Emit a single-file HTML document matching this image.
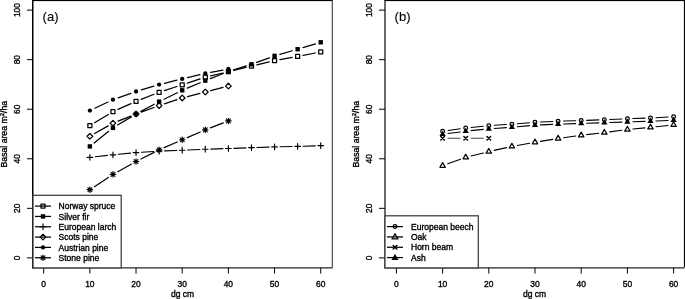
<!DOCTYPE html>
<html><head><meta charset="utf-8"><title>Basal area</title>
<style>html,body{margin:0;padding:0;background:#fff}svg{display:block}</style></head>
<body>
<svg width="685" height="299" viewBox="0 0 685 299">
<rect width="685" height="299" fill="#fff"/>
<rect x="32.00" y="0" width="300.60" height="1.1" fill="#000"/>
<path d="M332.30 0V267.90" stroke="#333" stroke-width="1.05" fill="none"/>
<path d="M33.00 267.90H332.50" stroke="#262626" stroke-width="1.3" fill="none"/>
<path d="M32.75 0V268.50" stroke="#000" stroke-width="1.5" fill="none"/>
<path d="M43.70 267.90V273.60M89.87 267.90V273.60M136.04 267.90V273.60M182.21 267.90V273.60M228.38 267.90V273.60M274.55 267.90V273.60M320.72 267.90V273.60M33.00 257.90H27.00M33.00 208.34H27.00M33.00 158.78H27.00M33.00 109.22H27.00M33.00 59.66H27.00M33.00 10.10H27.00" stroke="#000" stroke-width="1.0" fill="none"/>
<text x="43.70" y="287.1" font-size="8.45" text-anchor="middle" font-family="Liberation Sans, Arial, Helvetica, sans-serif" fill="#000" stroke="#000" stroke-width="0.35">0</text>
<text x="89.87" y="287.1" font-size="8.45" text-anchor="middle" font-family="Liberation Sans, Arial, Helvetica, sans-serif" fill="#000" stroke="#000" stroke-width="0.35">10</text>
<text x="136.04" y="287.1" font-size="8.45" text-anchor="middle" font-family="Liberation Sans, Arial, Helvetica, sans-serif" fill="#000" stroke="#000" stroke-width="0.35">20</text>
<text x="182.21" y="287.1" font-size="8.45" text-anchor="middle" font-family="Liberation Sans, Arial, Helvetica, sans-serif" fill="#000" stroke="#000" stroke-width="0.35">30</text>
<text x="228.38" y="287.1" font-size="8.45" text-anchor="middle" font-family="Liberation Sans, Arial, Helvetica, sans-serif" fill="#000" stroke="#000" stroke-width="0.35">40</text>
<text x="274.55" y="287.1" font-size="8.45" text-anchor="middle" font-family="Liberation Sans, Arial, Helvetica, sans-serif" fill="#000" stroke="#000" stroke-width="0.35">50</text>
<text x="320.72" y="287.1" font-size="8.45" text-anchor="middle" font-family="Liberation Sans, Arial, Helvetica, sans-serif" fill="#000" stroke="#000" stroke-width="0.35">60</text>
<text transform="translate(20.20 257.90) rotate(-90)" font-size="8.4" text-anchor="middle" font-family="Liberation Sans, Arial, Helvetica, sans-serif" fill="#000" stroke="#000" stroke-width="0.35">0</text>
<text transform="translate(20.20 208.34) rotate(-90)" font-size="8.4" text-anchor="middle" font-family="Liberation Sans, Arial, Helvetica, sans-serif" fill="#000" stroke="#000" stroke-width="0.35">20</text>
<text transform="translate(20.20 158.78) rotate(-90)" font-size="8.4" text-anchor="middle" font-family="Liberation Sans, Arial, Helvetica, sans-serif" fill="#000" stroke="#000" stroke-width="0.35">40</text>
<text transform="translate(20.20 109.22) rotate(-90)" font-size="8.4" text-anchor="middle" font-family="Liberation Sans, Arial, Helvetica, sans-serif" fill="#000" stroke="#000" stroke-width="0.35">60</text>
<text transform="translate(20.20 59.66) rotate(-90)" font-size="8.4" text-anchor="middle" font-family="Liberation Sans, Arial, Helvetica, sans-serif" fill="#000" stroke="#000" stroke-width="0.35">80</text>
<text transform="translate(20.20 10.10) rotate(-90)" font-size="8.4" text-anchor="middle" font-family="Liberation Sans, Arial, Helvetica, sans-serif" fill="#000" stroke="#000" stroke-width="0.35">100</text>
<text x="182.50" y="297.3" font-size="8.5" text-anchor="middle" font-family="Liberation Sans, Arial, Helvetica, sans-serif" fill="#000" stroke="#000" stroke-width="0.35">dg cm</text>
<text transform="translate(6.50 134.2) rotate(-90)" font-size="8.7" text-anchor="middle" font-family="Liberation Sans, Arial, Helvetica, sans-serif" fill="#000" stroke="#000" stroke-width="0.35">Basal area m<tspan font-size="6" dy="-3">2</tspan><tspan dy="3">/ha</tspan></text>
<text x="42.60" y="21.4" font-size="13" font-family="Liberation Sans, Arial, Helvetica, sans-serif" fill="#000" stroke="#000" stroke-width="0.12">(a)</text>
<path d="M94.56 122.78L108.26 114.41M117.99 109.33L131.00 103.62M141.15 99.38L154.01 94.28M164.36 90.57L176.97 86.52M187.43 83.10L200.08 78.90M210.65 75.91L223.03 72.99M233.72 70.41L246.12 67.36M256.82 64.78L269.20 61.86M279.96 59.62L292.22 57.38M303.04 55.36L315.32 52.99" stroke="#000" stroke-width="1.25" stroke-linecap="round" fill="none"/>
<rect x="87.87" y="123.64" width="4.00" height="4.00" stroke="#000" stroke-width="1.25" stroke-linecap="round" stroke-linejoin="round" fill="none"/>
<rect x="110.95" y="109.55" width="4.00" height="4.00" stroke="#000" stroke-width="1.25" stroke-linecap="round" stroke-linejoin="round" fill="none"/>
<rect x="134.04" y="99.41" width="4.00" height="4.00" stroke="#000" stroke-width="1.25" stroke-linecap="round" stroke-linejoin="round" fill="none"/>
<rect x="157.12" y="90.26" width="4.00" height="4.00" stroke="#000" stroke-width="1.25" stroke-linecap="round" stroke-linejoin="round" fill="none"/>
<rect x="180.21" y="82.84" width="4.00" height="4.00" stroke="#000" stroke-width="1.25" stroke-linecap="round" stroke-linejoin="round" fill="none"/>
<rect x="203.30" y="75.17" width="4.00" height="4.00" stroke="#000" stroke-width="1.25" stroke-linecap="round" stroke-linejoin="round" fill="none"/>
<rect x="226.38" y="69.73" width="4.00" height="4.00" stroke="#000" stroke-width="1.25" stroke-linecap="round" stroke-linejoin="round" fill="none"/>
<rect x="249.46" y="64.04" width="4.00" height="4.00" stroke="#000" stroke-width="1.25" stroke-linecap="round" stroke-linejoin="round" fill="none"/>
<rect x="272.55" y="58.60" width="4.00" height="4.00" stroke="#000" stroke-width="1.25" stroke-linecap="round" stroke-linejoin="round" fill="none"/>
<rect x="295.63" y="54.40" width="4.00" height="4.00" stroke="#000" stroke-width="1.25" stroke-linecap="round" stroke-linejoin="round" fill="none"/>
<rect x="318.72" y="49.95" width="4.00" height="4.00" stroke="#000" stroke-width="1.25" stroke-linecap="round" stroke-linejoin="round" fill="none"/>
<path d="M94.16 142.97L108.67 131.31M117.67 125.04L131.32 116.85M140.89 111.42L154.28 104.25M164.06 99.22L177.28 92.71M187.28 88.16L200.22 82.75M210.41 78.61L223.27 73.51M233.63 69.85L246.21 65.94M256.63 62.43L269.38 57.79M279.83 54.38L292.35 50.75M302.90 47.65L315.45 43.88" stroke="#000" stroke-width="1.25" stroke-linecap="round" fill="none"/>
<rect x="87.67" y="144.22" width="4.40" height="4.40" fill="#000"/>
<rect x="110.75" y="125.67" width="4.40" height="4.40" fill="#000"/>
<rect x="133.84" y="111.82" width="4.40" height="4.40" fill="#000"/>
<rect x="156.93" y="99.45" width="4.40" height="4.40" fill="#000"/>
<rect x="180.01" y="88.08" width="4.40" height="4.40" fill="#000"/>
<rect x="203.10" y="78.43" width="4.40" height="4.40" fill="#000"/>
<rect x="226.18" y="69.28" width="4.40" height="4.40" fill="#000"/>
<rect x="249.26" y="62.11" width="4.40" height="4.40" fill="#000"/>
<rect x="272.35" y="53.70" width="4.40" height="4.40" fill="#000"/>
<rect x="295.44" y="47.03" width="4.40" height="4.40" fill="#000"/>
<rect x="318.52" y="40.10" width="4.40" height="4.40" fill="#000"/>
<path d="M95.34 156.71L107.49 155.41M118.43 154.30L130.57 153.13M141.53 152.24L153.64 151.47M164.62 150.91L176.71 150.45M187.70 150.01L199.80 149.49M210.79 149.08L222.88 148.69M233.88 148.31L245.97 147.86M256.96 147.47L269.05 147.09M280.05 146.79L292.14 146.53M303.13 146.24L315.22 145.85" stroke="#000" stroke-width="1.15" stroke-linecap="round" fill="none"/>
<path d="M87.04 157.30H92.70M89.87 154.47V160.12" stroke="#000" stroke-width="1.15" stroke-linecap="round" stroke-linejoin="round" fill="none"/>
<path d="M110.13 154.82H115.78M112.95 151.99V157.65" stroke="#000" stroke-width="1.15" stroke-linecap="round" stroke-linejoin="round" fill="none"/>
<path d="M133.21 152.60H138.87M136.04 149.77V155.43" stroke="#000" stroke-width="1.15" stroke-linecap="round" stroke-linejoin="round" fill="none"/>
<path d="M156.30 151.11H161.95M159.12 148.29V153.94" stroke="#000" stroke-width="1.15" stroke-linecap="round" stroke-linejoin="round" fill="none"/>
<path d="M179.38 150.25H185.04M182.21 147.42V153.08" stroke="#000" stroke-width="1.15" stroke-linecap="round" stroke-linejoin="round" fill="none"/>
<path d="M202.47 149.26H208.12M205.30 146.43V152.09" stroke="#000" stroke-width="1.15" stroke-linecap="round" stroke-linejoin="round" fill="none"/>
<path d="M225.55 148.52H231.21M228.38 145.69V151.35" stroke="#000" stroke-width="1.15" stroke-linecap="round" stroke-linejoin="round" fill="none"/>
<path d="M248.64 147.65H254.29M251.46 144.82V150.48" stroke="#000" stroke-width="1.15" stroke-linecap="round" stroke-linejoin="round" fill="none"/>
<path d="M271.72 146.91H277.38M274.55 144.08V149.74" stroke="#000" stroke-width="1.15" stroke-linecap="round" stroke-linejoin="round" fill="none"/>
<path d="M294.81 146.41H300.46M297.63 143.59V149.24" stroke="#000" stroke-width="1.15" stroke-linecap="round" stroke-linejoin="round" fill="none"/>
<path d="M317.89 145.67H323.55M320.72 142.84V148.50" stroke="#000" stroke-width="1.15" stroke-linecap="round" stroke-linejoin="round" fill="none"/>
<path d="M94.65 133.56L108.17 125.88M118.07 121.14L130.93 116.05M141.21 112.14L153.96 107.49M164.34 103.88L176.99 99.68M187.54 96.57L199.97 93.38M210.62 90.64L223.05 87.44" stroke="#000" stroke-width="1.25" stroke-linecap="round" fill="none"/>
<path d="M87.04 136.28L89.87 133.45L92.70 136.28L89.87 139.10Z" stroke="#000" stroke-width="1.25" stroke-linecap="round" stroke-linejoin="round" fill="none"/>
<path d="M110.13 123.17L112.95 120.34L115.78 123.17L112.95 126.00Z" stroke="#000" stroke-width="1.25" stroke-linecap="round" stroke-linejoin="round" fill="none"/>
<path d="M133.21 114.02L136.04 111.19L138.87 114.02L136.04 116.85Z" stroke="#000" stroke-width="1.25" stroke-linecap="round" stroke-linejoin="round" fill="none"/>
<path d="M156.30 105.61L159.12 102.78L161.95 105.61L159.12 108.44Z" stroke="#000" stroke-width="1.25" stroke-linecap="round" stroke-linejoin="round" fill="none"/>
<path d="M179.38 97.94L182.21 95.12L185.04 97.94L182.21 100.77Z" stroke="#000" stroke-width="1.25" stroke-linecap="round" stroke-linejoin="round" fill="none"/>
<path d="M202.47 92.01L205.30 89.18L208.12 92.01L205.30 94.84Z" stroke="#000" stroke-width="1.25" stroke-linecap="round" stroke-linejoin="round" fill="none"/>
<path d="M225.55 86.07L228.38 83.25L231.21 86.07L228.38 88.90Z" stroke="#000" stroke-width="1.25" stroke-linecap="round" stroke-linejoin="round" fill="none"/>
<path d="M94.85 108.21L107.98 102.02M118.14 97.84L130.85 93.35M141.31 89.93L153.86 86.17M164.47 83.27L176.87 80.22M187.56 77.64L199.94 74.72M210.70 72.42L222.98 70.05" stroke="#000" stroke-width="1.25" stroke-linecap="round" fill="none"/>
<circle cx="89.87" cy="110.56" r="2.16" fill="#000"/>
<circle cx="112.95" cy="99.68" r="2.16" fill="#000"/>
<circle cx="136.04" cy="91.51" r="2.16" fill="#000"/>
<circle cx="159.12" cy="84.59" r="2.16" fill="#000"/>
<circle cx="182.21" cy="78.90" r="2.16" fill="#000"/>
<circle cx="205.30" cy="73.46" r="2.16" fill="#000"/>
<circle cx="228.38" cy="69.01" r="2.16" fill="#000"/>
<path d="M94.45 186.65L108.37 177.40M117.76 171.68L131.24 164.18M140.95 159.03L154.21 152.35M164.16 147.67L177.17 141.95M187.27 137.57L200.24 132.01M210.43 127.87L223.25 122.92" stroke="#000" stroke-width="1.25" stroke-linecap="round" fill="none"/>
<path d="M87.13 189.69H92.61M89.87 186.95V192.44M87.93 187.75L91.81 191.63M87.93 191.63L91.81 187.75" stroke="#000" stroke-width="1.15" stroke-linecap="round" stroke-linejoin="round" fill="none"/>
<path d="M110.21 174.36H115.70M112.95 171.62V177.10M111.02 172.42L114.89 176.30M111.02 176.30L114.89 172.42" stroke="#000" stroke-width="1.15" stroke-linecap="round" stroke-linejoin="round" fill="none"/>
<path d="M133.30 161.50H138.78M136.04 158.76V164.24M134.10 159.56L137.98 163.44M134.10 163.44L137.98 159.56" stroke="#000" stroke-width="1.15" stroke-linecap="round" stroke-linejoin="round" fill="none"/>
<path d="M156.38 149.88H161.87M159.12 147.13V152.62M157.19 147.94L161.06 151.82M157.19 151.82L161.06 147.94" stroke="#000" stroke-width="1.15" stroke-linecap="round" stroke-linejoin="round" fill="none"/>
<path d="M179.47 139.74H184.95M182.21 136.99V142.48M180.27 137.80L184.15 141.68M180.27 141.68L184.15 137.80" stroke="#000" stroke-width="1.15" stroke-linecap="round" stroke-linejoin="round" fill="none"/>
<path d="M202.55 129.85H208.04M205.30 127.10V132.59M203.36 127.91L207.24 131.79M203.36 131.79L207.24 127.91" stroke="#000" stroke-width="1.15" stroke-linecap="round" stroke-linejoin="round" fill="none"/>
<path d="M225.64 120.94H231.12M228.38 118.20V123.69M226.44 119.00L230.32 122.88M226.44 122.88L230.32 119.00" stroke="#000" stroke-width="1.15" stroke-linecap="round" stroke-linejoin="round" fill="none"/>
<rect x="33.0" y="195.3" width="88.20" height="72.60" fill="#fff" stroke="#3c3c3c" stroke-width="1.25"/>
<path d="M35.00 206.10H51.00" stroke="#000" stroke-width="1.25"/>
<rect x="41.00" y="204.10" width="4.00" height="4.00" stroke="#000" stroke-width="1.25" stroke-linecap="round" stroke-linejoin="round" fill="none"/>
<text x="58.60" y="209.20" font-size="8.5" font-family="Liberation Sans, Arial, Helvetica, sans-serif" fill="#000" stroke="#000" stroke-width="0.35">Norway spruce</text>
<path d="M35.00 216.43H51.00" stroke="#000" stroke-width="1.25"/>
<rect x="40.80" y="214.23" width="4.40" height="4.40" fill="#000"/>
<text x="58.60" y="219.53" font-size="8.5" font-family="Liberation Sans, Arial, Helvetica, sans-serif" fill="#000" stroke="#000" stroke-width="0.35">Silver fir</text>
<path d="M35.00 226.76H51.00" stroke="#000" stroke-width="1.25"/>
<path d="M40.17 226.76H45.83M43.00 223.93V229.59" stroke="#000" stroke-width="1.15" stroke-linecap="round" stroke-linejoin="round" fill="none"/>
<text x="58.60" y="229.86" font-size="8.5" font-family="Liberation Sans, Arial, Helvetica, sans-serif" fill="#000" stroke="#000" stroke-width="0.35">European larch</text>
<path d="M35.00 237.09H51.00" stroke="#000" stroke-width="1.25"/>
<path d="M40.17 237.09L43.00 234.26L45.83 237.09L43.00 239.92Z" stroke="#000" stroke-width="1.25" stroke-linecap="round" stroke-linejoin="round" fill="none"/>
<text x="58.60" y="240.19" font-size="8.5" font-family="Liberation Sans, Arial, Helvetica, sans-serif" fill="#000" stroke="#000" stroke-width="0.35">Scots pine</text>
<path d="M35.00 247.42H51.00" stroke="#000" stroke-width="1.25"/>
<circle cx="43.00" cy="247.42" r="2.16" fill="#000"/>
<text x="58.60" y="250.52" font-size="8.5" font-family="Liberation Sans, Arial, Helvetica, sans-serif" fill="#000" stroke="#000" stroke-width="0.35">Austrian pine</text>
<path d="M35.00 257.75H51.00" stroke="#000" stroke-width="1.25"/>
<path d="M40.26 257.75H45.74M43.00 255.01V260.49M41.06 255.81L44.94 259.69M41.06 259.69L44.94 255.81" stroke="#000" stroke-width="1.15" stroke-linecap="round" stroke-linejoin="round" fill="none"/>
<text x="58.60" y="260.85" font-size="8.5" font-family="Liberation Sans, Arial, Helvetica, sans-serif" fill="#000" stroke="#000" stroke-width="0.35">Stone pine</text>
<rect x="384.70" y="0" width="299.90" height="1.1" fill="#000"/>
<rect x="683.9" y="0" width="1.1" height="267.3" fill="#000"/>
<path d="M385.00 267.90H684.50" stroke="#262626" stroke-width="1.3" fill="none"/>
<path d="M385.00 0V268.50" stroke="#111" stroke-width="1.25" fill="none"/>
<path d="M396.40 267.90V273.60M442.60 267.90V273.60M488.80 267.90V273.60M535.00 267.90V273.60M581.20 267.90V273.60M627.40 267.90V273.60M673.60 267.90V273.60M385.00 257.90H379.00M385.00 208.34H379.00M385.00 158.78H379.00M385.00 109.22H379.00M385.00 59.66H379.00M385.00 10.10H379.00" stroke="#000" stroke-width="1.0" fill="none"/>
<text x="396.40" y="287.1" font-size="8.45" text-anchor="middle" font-family="Liberation Sans, Arial, Helvetica, sans-serif" fill="#000" stroke="#000" stroke-width="0.35">0</text>
<text x="442.60" y="287.1" font-size="8.45" text-anchor="middle" font-family="Liberation Sans, Arial, Helvetica, sans-serif" fill="#000" stroke="#000" stroke-width="0.35">10</text>
<text x="488.80" y="287.1" font-size="8.45" text-anchor="middle" font-family="Liberation Sans, Arial, Helvetica, sans-serif" fill="#000" stroke="#000" stroke-width="0.35">20</text>
<text x="535.00" y="287.1" font-size="8.45" text-anchor="middle" font-family="Liberation Sans, Arial, Helvetica, sans-serif" fill="#000" stroke="#000" stroke-width="0.35">30</text>
<text x="581.20" y="287.1" font-size="8.45" text-anchor="middle" font-family="Liberation Sans, Arial, Helvetica, sans-serif" fill="#000" stroke="#000" stroke-width="0.35">40</text>
<text x="627.40" y="287.1" font-size="8.45" text-anchor="middle" font-family="Liberation Sans, Arial, Helvetica, sans-serif" fill="#000" stroke="#000" stroke-width="0.35">50</text>
<text x="673.60" y="287.1" font-size="8.45" text-anchor="middle" font-family="Liberation Sans, Arial, Helvetica, sans-serif" fill="#000" stroke="#000" stroke-width="0.35">60</text>
<text transform="translate(372.20 257.90) rotate(-90)" font-size="8.4" text-anchor="middle" font-family="Liberation Sans, Arial, Helvetica, sans-serif" fill="#000" stroke="#000" stroke-width="0.35">0</text>
<text transform="translate(372.20 208.34) rotate(-90)" font-size="8.4" text-anchor="middle" font-family="Liberation Sans, Arial, Helvetica, sans-serif" fill="#000" stroke="#000" stroke-width="0.35">20</text>
<text transform="translate(372.20 158.78) rotate(-90)" font-size="8.4" text-anchor="middle" font-family="Liberation Sans, Arial, Helvetica, sans-serif" fill="#000" stroke="#000" stroke-width="0.35">40</text>
<text transform="translate(372.20 109.22) rotate(-90)" font-size="8.4" text-anchor="middle" font-family="Liberation Sans, Arial, Helvetica, sans-serif" fill="#000" stroke="#000" stroke-width="0.35">60</text>
<text transform="translate(372.20 59.66) rotate(-90)" font-size="8.4" text-anchor="middle" font-family="Liberation Sans, Arial, Helvetica, sans-serif" fill="#000" stroke="#000" stroke-width="0.35">80</text>
<text transform="translate(372.20 10.10) rotate(-90)" font-size="8.4" text-anchor="middle" font-family="Liberation Sans, Arial, Helvetica, sans-serif" fill="#000" stroke="#000" stroke-width="0.35">100</text>
<text x="534.50" y="297.3" font-size="8.5" text-anchor="middle" font-family="Liberation Sans, Arial, Helvetica, sans-serif" fill="#000" stroke="#000" stroke-width="0.35">dg cm</text>
<text transform="translate(358.50 134.2) rotate(-90)" font-size="8.7" text-anchor="middle" font-family="Liberation Sans, Arial, Helvetica, sans-serif" fill="#000" stroke="#000" stroke-width="0.35">Basal area m<tspan font-size="6" dy="-3">2</tspan><tspan dy="3">/ha</tspan></text>
<text x="394.60" y="21.4" font-size="13" font-family="Liberation Sans, Arial, Helvetica, sans-serif" fill="#000" stroke="#000" stroke-width="0.12">(b)</text>
<path d="M448.04 130.54L460.26 128.78M471.17 127.43L483.33 126.20M494.29 125.29L506.41 124.51M517.38 123.72L529.52 122.74M540.49 122.04L552.61 121.46M563.60 121.04L575.70 120.72M586.70 120.37L598.80 119.91M609.79 119.47L621.91 118.95M632.90 118.54L645.00 118.15M655.99 117.68L668.11 117.03" stroke="#000" stroke-width="1.1" stroke-linecap="round" fill="none"/>
<circle cx="442.60" cy="131.33" r="1.86" stroke="#000" stroke-width="1.25" stroke-linecap="round" stroke-linejoin="round" fill="none"/>
<circle cx="465.70" cy="127.99" r="1.86" stroke="#000" stroke-width="1.25" stroke-linecap="round" stroke-linejoin="round" fill="none"/>
<circle cx="488.80" cy="125.64" r="1.86" stroke="#000" stroke-width="1.25" stroke-linecap="round" stroke-linejoin="round" fill="none"/>
<circle cx="511.90" cy="124.16" r="1.86" stroke="#000" stroke-width="1.25" stroke-linecap="round" stroke-linejoin="round" fill="none"/>
<circle cx="535.00" cy="122.30" r="1.86" stroke="#000" stroke-width="1.25" stroke-linecap="round" stroke-linejoin="round" fill="none"/>
<circle cx="558.10" cy="121.19" r="1.86" stroke="#000" stroke-width="1.25" stroke-linecap="round" stroke-linejoin="round" fill="none"/>
<circle cx="581.20" cy="120.57" r="1.86" stroke="#000" stroke-width="1.25" stroke-linecap="round" stroke-linejoin="round" fill="none"/>
<circle cx="604.30" cy="119.71" r="1.86" stroke="#000" stroke-width="1.25" stroke-linecap="round" stroke-linejoin="round" fill="none"/>
<circle cx="627.40" cy="118.72" r="1.86" stroke="#000" stroke-width="1.25" stroke-linecap="round" stroke-linejoin="round" fill="none"/>
<circle cx="650.50" cy="117.98" r="1.86" stroke="#000" stroke-width="1.25" stroke-linecap="round" stroke-linejoin="round" fill="none"/>
<circle cx="673.60" cy="116.74" r="1.86" stroke="#000" stroke-width="1.25" stroke-linecap="round" stroke-linejoin="round" fill="none"/>
<path d="M447.77 163.82L460.53 159.18M471.04 155.98L483.46 152.92M494.17 150.40L506.53 147.62M517.31 145.43L529.59 143.20M540.43 141.34L552.67 139.37M563.55 137.74L575.75 136.04M586.66 134.64L598.84 133.21M609.76 131.87L621.94 130.30M632.87 129.07L645.03 127.90M655.97 126.79L668.13 125.49" stroke="#000" stroke-width="1.1" stroke-linecap="round" fill="none"/>
<path d="M442.60 162.59L445.29 167.26L439.91 167.26Z" stroke="#000" stroke-width="1.25" stroke-linecap="round" stroke-linejoin="round" fill="none"/>
<path d="M465.70 154.19L468.39 158.85L463.01 158.85Z" stroke="#000" stroke-width="1.25" stroke-linecap="round" stroke-linejoin="round" fill="none"/>
<path d="M488.80 148.50L491.49 153.16L486.11 153.16Z" stroke="#000" stroke-width="1.25" stroke-linecap="round" stroke-linejoin="round" fill="none"/>
<path d="M511.90 143.30L514.59 147.97L509.21 147.97Z" stroke="#000" stroke-width="1.25" stroke-linecap="round" stroke-linejoin="round" fill="none"/>
<path d="M535.00 139.10L537.69 143.77L532.31 143.77Z" stroke="#000" stroke-width="1.25" stroke-linecap="round" stroke-linejoin="round" fill="none"/>
<path d="M558.10 135.39L560.79 140.06L555.41 140.06Z" stroke="#000" stroke-width="1.25" stroke-linecap="round" stroke-linejoin="round" fill="none"/>
<path d="M581.20 132.18L583.89 136.84L578.51 136.84Z" stroke="#000" stroke-width="1.25" stroke-linecap="round" stroke-linejoin="round" fill="none"/>
<path d="M604.30 129.46L606.99 134.12L601.61 134.12Z" stroke="#000" stroke-width="1.25" stroke-linecap="round" stroke-linejoin="round" fill="none"/>
<path d="M627.40 126.49L630.09 131.15L624.71 131.15Z" stroke="#000" stroke-width="1.25" stroke-linecap="round" stroke-linejoin="round" fill="none"/>
<path d="M650.50 124.26L653.19 128.93L647.81 128.93Z" stroke="#000" stroke-width="1.25" stroke-linecap="round" stroke-linejoin="round" fill="none"/>
<path d="M673.60 121.79L676.29 126.45L670.91 126.45Z" stroke="#000" stroke-width="1.25" stroke-linecap="round" stroke-linejoin="round" fill="none"/>
<path d="M448.10 138.25L460.20 138.25M471.20 138.25L483.30 138.25" stroke="#444" stroke-width="1.0" stroke-linecap="round" fill="none"/>
<path d="M440.80 136.45L444.40 140.05M440.80 140.05L444.40 136.45" stroke="#000" stroke-width="1.5" stroke-linecap="round" stroke-linejoin="round" fill="none"/>
<path d="M463.90 136.45L467.50 140.05M463.90 140.05L467.50 136.45" stroke="#000" stroke-width="1.5" stroke-linecap="round" stroke-linejoin="round" fill="none"/>
<path d="M487.00 136.45L490.60 140.05M487.00 140.05L490.60 136.45" stroke="#000" stroke-width="1.5" stroke-linecap="round" stroke-linejoin="round" fill="none"/>
<path d="M448.05 133.57L460.25 131.94M471.17 130.65L483.33 129.41M494.29 128.47L506.41 127.63M517.38 126.75L529.52 125.65M540.49 124.91L552.61 124.39M563.60 123.98L575.70 123.59M586.70 123.24L598.80 122.85M609.80 122.50L621.90 122.11M632.90 121.76L645.00 121.37M655.99 120.96L668.11 120.44" stroke="#000" stroke-width="1.1" stroke-linecap="round" fill="none"/>
<path d="M442.60 130.72L445.70 136.09L439.50 136.09Z" fill="#000"/>
<path d="M465.70 127.63L468.80 132.99L462.60 132.99Z" fill="#000"/>
<path d="M488.80 125.28L491.90 130.65L485.70 130.65Z" fill="#000"/>
<path d="M511.90 123.67L515.00 129.04L508.80 129.04Z" fill="#000"/>
<path d="M535.00 121.57L538.10 126.94L531.90 126.94Z" fill="#000"/>
<path d="M558.10 120.58L561.20 125.95L555.00 125.95Z" fill="#000"/>
<path d="M581.20 119.84L584.30 125.20L578.10 125.20Z" fill="#000"/>
<path d="M604.30 119.10L607.40 124.46L601.20 124.46Z" fill="#000"/>
<path d="M627.40 118.36L630.50 123.72L624.30 123.72Z" fill="#000"/>
<path d="M650.50 117.61L653.60 122.98L647.40 122.98Z" fill="#000"/>
<path d="M673.60 116.62L676.70 121.99L670.50 121.99Z" fill="#000"/>
<rect x="385.0" y="215.8" width="93.30" height="52.10" fill="#fff" stroke="#3c3c3c" stroke-width="1.25"/>
<path d="M387.00 226.60H403.00" stroke="#000" stroke-width="1.25"/>
<circle cx="395.00" cy="226.60" r="1.86" stroke="#000" stroke-width="1.25" stroke-linecap="round" stroke-linejoin="round" fill="none"/>
<text x="411.00" y="229.70" font-size="8.5" font-family="Liberation Sans, Arial, Helvetica, sans-serif" fill="#000" stroke="#000" stroke-width="0.35">European beech</text>
<path d="M387.00 236.93H403.00" stroke="#000" stroke-width="1.25"/>
<path d="M395.00 233.72L398.04 238.99L391.96 238.99Z" stroke="#000" stroke-width="1.25" stroke-linecap="round" stroke-linejoin="round" fill="none"/>
<text x="411.00" y="240.03" font-size="8.5" font-family="Liberation Sans, Arial, Helvetica, sans-serif" fill="#000" stroke="#000" stroke-width="0.35">Oak</text>
<path d="M387.00 247.26H403.00" stroke="#000" stroke-width="1.25"/>
<path d="M393.20 245.46L396.80 249.06M393.20 249.06L396.80 245.46" stroke="#000" stroke-width="1.5" stroke-linecap="round" stroke-linejoin="round" fill="none"/>
<text x="411.00" y="250.36" font-size="8.5" font-family="Liberation Sans, Arial, Helvetica, sans-serif" fill="#000" stroke="#000" stroke-width="0.35">Horn beam</text>
<path d="M387.00 257.59H403.00" stroke="#000" stroke-width="1.25"/>
<path d="M395.00 253.85L398.50 259.91L391.50 259.91Z" fill="#000"/>
<text x="411.00" y="260.69" font-size="8.5" font-family="Liberation Sans, Arial, Helvetica, sans-serif" fill="#000" stroke="#000" stroke-width="0.35">Ash</text>
</svg>
</body></html>
